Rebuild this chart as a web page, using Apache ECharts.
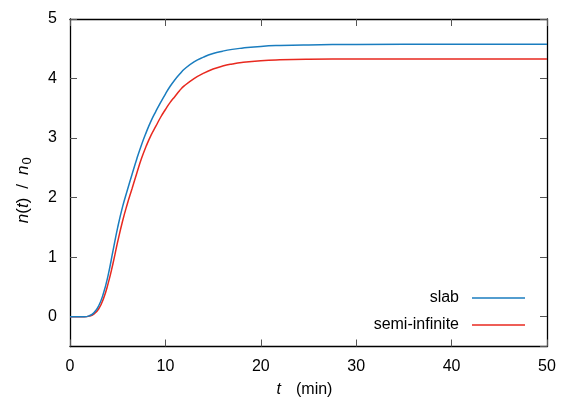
<!DOCTYPE html>
<html>
<head>
<meta charset="utf-8">
<script src="https://cdn.jsdelivr.net/npm/echarts@6/dist/echarts.min.js"></script>
<style>
  html, body { margin: 0; padding: 0; background: #fff; }
  #chart { width: 581px; height: 407px; }
</style>
</head>
<body>
<div id="chart"></div>
<script>
// time in minutes
var tSlab = [0, 1, 1.5, 2, 2.5, 3, 3.5, 4, 4.5, 5, 5.5, 6, 6.5, 7, 7.5, 8, 8.5, 9, 9.5, 10,
             10.5, 11, 11.5, 12, 13, 14, 15, 16, 17, 18, 20, 22, 25, 30, 40, 50];
var nSlab = [0, 0, 0, 0.015, 0.065, 0.18, 0.39, 0.7, 1.1, 1.5, 1.84, 2.12, 2.39, 2.65, 2.89, 3.1, 3.29, 3.45, 3.6, 3.74,
             3.87, 3.98, 4.075, 4.16, 4.28, 4.36, 4.42, 4.46, 4.49, 4.51, 4.54, 4.555, 4.565, 4.572, 4.575, 4.575];

var tSemi = [0, 1, 1.5, 2, 2.5, 3, 3.5, 4, 4.5, 5, 5.5, 6, 6.5, 7, 7.5, 8, 8.5, 9, 9.5, 10,
             10.5, 11, 11.5, 12, 13, 14, 15, 16, 17, 18, 20, 22, 25, 30, 40, 50];
var nSemi = [0, 0, 0, 0.01, 0.045, 0.13, 0.3, 0.56, 0.89, 1.26, 1.6, 1.89, 2.15, 2.41, 2.66, 2.87, 3.05, 3.2, 3.35, 3.48,
             3.6, 3.7, 3.8, 3.88, 4.0, 4.09, 4.16, 4.21, 4.245, 4.27, 4.3, 4.315, 4.325, 4.33, 4.33, 4.33];

var seriesNames = ['slab', 'semi-infinite'];
var xTicks = [0, 10, 20, 30, 40, 50];

function pairs(xs, ys) {
    var out = [];
    for (var i = 0; i < xs.length; i++) out.push([xs[i], ys[i]]);
    return out;
}

var myChart = echarts.init(document.getElementById('chart'), null, {renderer: 'canvas'});
var font = 'Liberation Sans, Arial, sans-serif';

var tickStyle = {show: true, inside: true, length: 7, lineStyle: {color: '#555', width: 1}};
var lineStyleAxis = {show: true, onZero: false, lineStyle: {color: '#000', width: 1.3}};

var option = {
    animation: false,
    backgroundColor: '#fff',
    grid: {left: 70, right: 34, top: 19, bottom: 60.5},
    legend: {
        orient: 'vertical',
        right: 51,
        top: 285,
        align: 'right',
        icon: 'rect',
        itemWidth: 53,
        itemHeight: 1.6,
        itemGap: 11,
        data: seriesNames,
        textStyle: {fontFamily: font, fontSize: 16, color: '#000', padding: [0, 8, 0, 0]}
    },
    xAxis: [{
        type: 'value', min: 0, max: 50, interval: 10, position: 'bottom',
        name: '{i|t}(min)', nameLocation: 'middle', nameGap: 35,
        nameTextStyle: {fontFamily: font, fontSize: 16, color: '#000', padding: [0, 8, 0, 0],
            rich: {i: {fontFamily: font, fontSize: 16, fontStyle: 'italic', color: '#000', padding: [0, 15, 0, 0]}}},
        axisLine: lineStyleAxis, axisTick: tickStyle, splitLine: {show: false},
        axisLabel: {fontFamily: font, fontSize: 16, color: '#000', margin: 12,
            formatter: function (v) { return xTicks.indexOf(v) >= 0 ? String(v) : ''; }}
    }, {
        type: 'value', min: 0, max: 50, interval: 10, position: 'top',
        axisLine: lineStyleAxis, axisTick: tickStyle, splitLine: {show: false},
        axisLabel: {show: false}
    }],
    yAxis: [{
        type: 'value', min: -0.5, max: 5, position: 'left',
        name: '{i|n}({i|t}){sl|/}{i|n}{s|0}', nameLocation: 'middle', nameGap: 36,
        nameTextStyle: {fontFamily: font, fontSize: 17, color: '#000', padding: [0, 15, 0, 0],
            rich: {
                i: {fontFamily: font, fontSize: 17, fontStyle: 'italic', color: '#000'},
                sl: {fontFamily: font, fontSize: 17, color: '#000', padding: [0, 9, 0, 9]},
                s: {fontFamily: font, fontSize: 13, color: '#000', verticalAlign: 'bottom', padding: [9, 0, 0, 1]}
            }},
        axisLine: lineStyleAxis, axisTick: tickStyle, splitLine: {show: false},
        axisLabel: {fontFamily: font, fontSize: 16, color: '#000', margin: 13, showMinLabel: false,
            formatter: function (v) { return Math.abs(v - Math.round(v)) < 1e-9 ? String(v) : ''; }}
    }, {
        type: 'value', min: -0.5, max: 5, position: 'right',
        axisLine: lineStyleAxis, axisTick: tickStyle, splitLine: {show: false},
        axisLabel: {show: false}
    }],
    series: [{
        name: seriesNames[0], type: 'line', smooth: 0.5, symbol: 'none',
        data: pairs(tSlab, nSlab),
        lineStyle: {color: '#1a7dbf', width: 1.5}, itemStyle: {color: '#1a7dbf'}, z: 3
    }, {
        name: seriesNames[1], type: 'line', smooth: 0.5, symbol: 'none',
        data: pairs(tSemi, nSemi),
        lineStyle: {color: '#e8291f', width: 1.5}, itemStyle: {color: '#e8291f'}, z: 2
    }]
};
myChart.setOption(option);
</script>
</body>
</html>
